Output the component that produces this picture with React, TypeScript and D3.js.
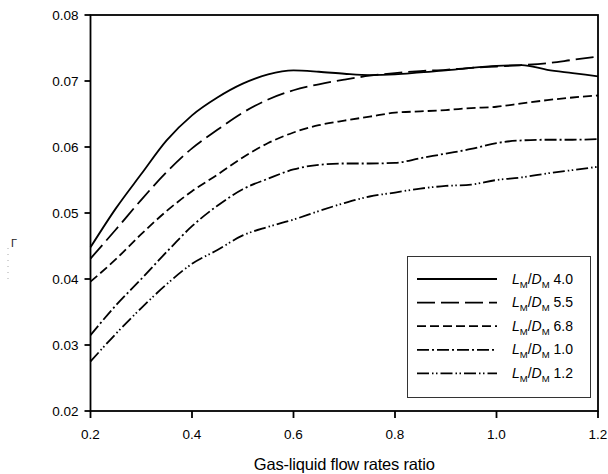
import React from "react";
import * as d3 from "d3";

// Gas-liquid flow rate ratios sampled for every curve
const flowRatios = [
  0.2, 0.25, 0.3, 0.35, 0.4, 0.45, 0.5, 0.55, 0.6, 0.65, 0.7, 0.75, 0.8, 0.85,
  0.9, 0.95, 1.0, 1.05, 1.1, 1.15, 1.2,
];

const ratio40 = [
  0.0448, 0.0507, 0.0559, 0.061, 0.0648, 0.0675, 0.0696, 0.071, 0.0716, 0.0714,
  0.0711, 0.0709, 0.071, 0.0713, 0.0716, 0.072, 0.0723, 0.0724, 0.0717, 0.0712,
  0.0707,
];
const ratio55 = [
  0.0431, 0.0475, 0.052, 0.0562, 0.0598, 0.0626, 0.0652, 0.0672, 0.0686, 0.0695,
  0.0702, 0.0708, 0.0712, 0.0715, 0.0717, 0.072, 0.0722, 0.0724, 0.0727, 0.0732,
  0.0737,
];
const ratio68 = [
  0.0396, 0.043, 0.0468, 0.0503, 0.0533, 0.0558, 0.0584, 0.0606, 0.0622, 0.0633,
  0.064, 0.0646, 0.0652, 0.0654, 0.0656, 0.0659, 0.0661, 0.0666, 0.0671, 0.0675,
  0.0678,
];
const ratio10 = [
  0.0315, 0.036, 0.04, 0.0441, 0.048, 0.0511, 0.0536, 0.0552, 0.0566, 0.0573,
  0.0575, 0.0575, 0.0576, 0.0583, 0.059, 0.0597, 0.0606, 0.061, 0.0611, 0.0611,
  0.0612,
];
const ratio12 = [
  0.0275, 0.0317, 0.0356, 0.0392, 0.0423, 0.0444, 0.0466, 0.0479, 0.049, 0.0503,
  0.0515, 0.0525, 0.0531, 0.0537, 0.0541, 0.0543, 0.055, 0.0554, 0.056, 0.0565,
  0.057,
];

const seriesLabels = ["4.0", "5.5", "6.8", "1.0", "1.2"];
const xTicks = [0.2, 0.4, 0.6, 0.8, 1.0, 1.2];
const yTicks = [0.02, 0.03, 0.04, 0.05, 0.06, 0.07, 0.08];

const series = [
  { label: seriesLabels[0], values: ratio40, dash: "none" },
  { label: seriesLabels[1], values: ratio55, dash: "18,6" },
  { label: seriesLabels[2], values: ratio68, dash: "9,4" },
  { label: seriesLabels[3], values: ratio10, dash: "12,3,2,3" },
  { label: seriesLabels[4], values: ratio12, dash: "12,3,1.5,2.5,1.5,3" },
];

const W = 608;
const H = 474;
const left = 90.5;
const right = 598;
const top = 15;
const bottom = 411;
const font = "'Liberation Sans', Arial, Helvetica, sans-serif";

export default function App() {
  const x = d3.scaleLinear().domain([0.2, 1.2]).range([left, right]);
  const y = d3.scaleLinear().domain([0.02, 0.08]).range([bottom, top]);

  const line = d3
    .line<number>()
    .x((_, i) => x(flowRatios[i]))
    .y((d) => y(d))
    .curve(d3.curveMonotoneX);

  const legLeft = 407.5;
  const legRight = 590.5;
  const legTop = 256.5;
  const legBottom = 397.5;
  const rowY = (i: number) => 279 + i * 23.6;

  return (
    <svg
      width={W}
      height={H}
      style={{ position: "absolute", left: 0, top: 0, background: "#fff" }}
      fontFamily={font}
    >
      <rect width={W} height={H} fill="#fff" />

      {/* curves */}
      <g fill="none" stroke="#000" strokeWidth={1.8}>
        {series.map((s, i) => (
          <path
            key={i}
            d={line(s.values) || ""}
            strokeDasharray={s.dash}
          />
        ))}
      </g>

      {/* frame */}
      <rect
        x={left}
        y={top}
        width={right - left}
        height={bottom - top}
        fill="none"
        stroke="#000"
        strokeWidth={1.8}
      />

      {/* y axis ticks */}
      {yTicks.map((t) => (
        <g key={t}>
          <line x1={left - 6} x2={left} y1={y(t)} y2={y(t)} stroke="#000" strokeWidth={1.8} />
          <text
            x={left - 12}
            y={y(t)}
            dy="0.35em"
            textAnchor="end"
            fontSize={13.5}
            fill="#000"
          >
            {t.toFixed(2)}
          </text>
        </g>
      ))}

      {/* x axis ticks */}
      {xTicks.map((t) => (
        <g key={t}>
          <line x1={x(t)} x2={x(t)} y1={bottom} y2={bottom + 7} stroke="#000" strokeWidth={1.8} />
          <text x={x(t)} y={439} textAnchor="middle" fontSize={13.5} fill="#000">
            {t.toFixed(1)}
          </text>
        </g>
      ))}

      <text
        x={(left + right) / 2}
        y={469.5}
        textAnchor="middle"
        fontSize={16.5}
        fill="#000"
        letterSpacing={-0.2}
      >
        Gas-liquid flow rates ratio
      </text>

      {/* y axis title */}
      <text x={11} y={247} fontSize={11} fill="#222">
        Γ
      </text>
      <line x1={8} x2={8} y1={248} y2={281} stroke="#aaa" strokeWidth={1} strokeDasharray="1,5" />

      {/* legend */}
      <rect
        x={legLeft}
        y={legTop}
        width={legRight - legLeft}
        height={legBottom - legTop}
        fill="#fff"
        stroke="#333"
        strokeWidth={1}
      />
      {series.map((s, i) => (
        <g key={i}>
          <line
            x1={417}
            x2={497}
            y1={rowY(i)}
            y2={rowY(i)}
            stroke="#000"
            strokeWidth={1.8}
            strokeDasharray={s.dash}
          />
          <text x={512} y={rowY(i) + 4.5} fontSize={14} fill="#000">
            <tspan fontStyle="italic">L</tspan>
            <tspan fontSize={9.5} dy={4}>M</tspan>
            <tspan dy={-4}>/</tspan>
            <tspan fontStyle="italic">D</tspan>
            <tspan fontSize={9.5} dy={4}>M</tspan>
            <tspan dy={-4}> {s.label}</tspan>
          </text>
        </g>
      ))}
    </svg>
  );
}
